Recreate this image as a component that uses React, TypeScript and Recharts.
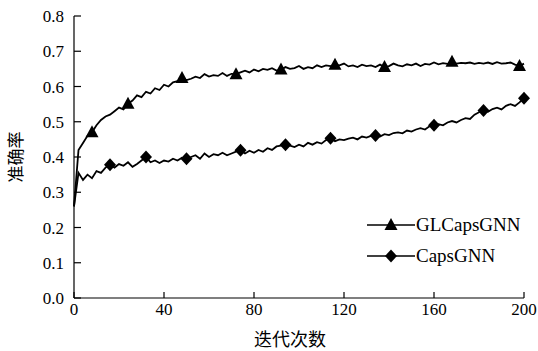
import React from "react";
import { LineChart, Line, XAxis, YAxis } from "recharts";

const iterations = Array.from({ length: 101 }, (_, i) => i * 2);

const glCapsGNN = [
  0.26, 0.42, 0.44, 0.46, 0.47, 0.49, 0.505, 0.515, 0.52, 0.53,
  0.54, 0.535, 0.551, 0.56, 0.575, 0.57, 0.585, 0.58, 0.595, 0.59,
  0.605, 0.6, 0.612, 0.615, 0.624, 0.618, 0.622, 0.628, 0.624, 0.635,
  0.628, 0.632, 0.63, 0.638, 0.63, 0.636, 0.635, 0.64, 0.645, 0.64,
  0.648, 0.643, 0.65, 0.647, 0.652, 0.645, 0.648, 0.655, 0.65, 0.652,
  0.658, 0.65, 0.655, 0.652, 0.66, 0.655, 0.66, 0.658, 0.662, 0.66,
  0.665, 0.657, 0.66, 0.655, 0.662, 0.658, 0.66, 0.655, 0.662, 0.655,
  0.658, 0.665, 0.66, 0.657, 0.663, 0.66, 0.665, 0.658, 0.664, 0.662,
  0.668, 0.663, 0.666, 0.664, 0.67, 0.665, 0.667, 0.666, 0.668, 0.664,
  0.667, 0.665, 0.668, 0.664, 0.669, 0.665, 0.666, 0.668, 0.662, 0.658,
  0.665,
];

const capsGNN = [
  0.26, 0.355, 0.335, 0.35, 0.34, 0.36, 0.355, 0.37, 0.378, 0.37,
  0.38, 0.375, 0.385, 0.372, 0.38, 0.39, 0.4, 0.385, 0.39, 0.383,
  0.39, 0.387, 0.395, 0.39, 0.398, 0.395, 0.4, 0.405, 0.395, 0.41,
  0.4, 0.408, 0.405, 0.412, 0.405, 0.41, 0.415, 0.419, 0.41, 0.418,
  0.412, 0.42, 0.415, 0.425, 0.42, 0.43, 0.432, 0.435, 0.432, 0.428,
  0.435, 0.43, 0.44, 0.435, 0.442, 0.438, 0.448, 0.453, 0.445, 0.45,
  0.448, 0.452, 0.455, 0.45, 0.458, 0.455, 0.46, 0.461, 0.458, 0.465,
  0.462, 0.468, 0.47, 0.467, 0.475, 0.472, 0.478, 0.482, 0.478, 0.487,
  0.49, 0.493, 0.49, 0.498, 0.502, 0.498, 0.505, 0.51, 0.508, 0.52,
  0.527, 0.532, 0.528, 0.536, 0.54, 0.535, 0.545, 0.55, 0.545, 0.555,
  0.567,
];

// iterations where a marker is drawn
const glMarkers = [8, 24, 48, 72, 92, 116, 138, 168, 198];
const capsMarkers = [16, 32, 50, 74, 94, 114, 134, 160, 182, 200];

const xTicks = [0, 40, 80, 120, 160, 200];
const yTicks = [0, 0.1, 0.2, 0.3, 0.4, 0.5, 0.6, 0.7, 0.8];

const data = iterations.map((x, i) => ({ x, gl: glCapsGNN[i], caps: capsGNN[i] }));

const serif = "'Liberation Serif', 'Times New Roman', serif";
const cjk = "'Noto Sans CJK SC', sans-serif";

const Triangle = ({ cx, cy }: { cx: number; cy: number }) => (
  <polygon points={`${cx},${cy - 7} ${cx - 6.5},${cy + 5} ${cx + 6.5},${cy + 5}`} fill="#000" />
);

const Diamond = ({ cx, cy }: { cx: number; cy: number }) => (
  <polygon points={`${cx},${cy - 6.5} ${cx + 6},${cy} ${cx},${cy + 6.5} ${cx - 6},${cy}`} fill="#000" />
);

const markerDot = (marks: number[], Shape: typeof Triangle) => (props: any) => {
  const { cx, cy, payload, index } = props;
  if (!marks.includes(payload.x)) return <g key={index} />;
  return (
    <g key={index}>
      <Shape cx={cx} cy={cy} />
    </g>
  );
};

const XTick = (props: any) => {
  const { x, y, payload } = props;
  return (
    <g>
      <line x1={x} y1={y} x2={x} y2={y - 6} stroke="#000" strokeWidth={1.2} />
      <text x={x} y={y + 17} textAnchor="middle" fontFamily={serif} fontSize={17} style={{ fontFamily: serif }} fill="#000">
        {payload.value}
      </text>
    </g>
  );
};

const YTick = (props: any) => {
  const { x, y, payload } = props;
  return (
    <g>
      <line x1={x} y1={y} x2={x + 7} y2={y} stroke="#000" strokeWidth={1.2} />
      <text x={x - 10} y={y + 6} textAnchor="end" fontFamily={serif} fontSize={17} style={{ fontFamily: serif }} fill="#000">
        {Number(payload.value).toFixed(1)}
      </text>
    </g>
  );
};

export default function App() {
  return (
    <div style={{ position: "absolute", left: 0, top: 0, width: 538, height: 351, background: "#fff" }}>
      <LineChart width={538} height={351} data={data} margin={{ top: 16, right: 14, bottom: 23, left: 0 }}>
        <XAxis
          dataKey="x"
          type="number"
          domain={[0, 200]}
          ticks={xTicks}
          tickSize={0}
          tickMargin={0}
          tickLine={false}
          height={30}
          axisLine={{ stroke: "#000", strokeWidth: 1.2 }}
          tick={<XTick />}
          interval={0}
        />
        <YAxis
          type="number"
          domain={[0, 0.8]}
          ticks={yTicks}
          width={74}
          tickSize={0}
          tickMargin={0}
          tickLine={false}
          axisLine={{ stroke: "#000", strokeWidth: 1.2 }}
          tick={<YTick />}
          interval={0}
        />
        <Line
          dataKey="gl"
          name="GLCapsGNN"
          stroke="#000"
          strokeWidth={1.8}
          dot={markerDot(glMarkers, Triangle)}
          activeDot={false}
          isAnimationActive={false}
        />
        <Line
          dataKey="caps"
          name="CapsGNN"
          stroke="#000"
          strokeWidth={1.8}
          dot={markerDot(capsMarkers, Diamond)}
          activeDot={false}
          isAnimationActive={false}
        />
      </LineChart>
      <svg width={538} height={351} style={{ position: "absolute", left: 0, top: 0, pointerEvents: "none" }}>
        <g>
          <line x1={367} y1={225} x2={415} y2={225} stroke="#000" strokeWidth={1.5} />
          <Triangle cx={391} cy={225} />
          <text x={416} y={231} style={{ fontFamily: serif, fontSize: 19 }} fill="#000">GLCapsGNN</text>
          <line x1={367} y1={256} x2={415} y2={256} stroke="#000" strokeWidth={1.5} />
          <Diamond cx={391} cy={256} />
          <text x={416} y={262} style={{ fontFamily: serif, fontSize: 19 }} fill="#000">CapsGNN</text>
        </g>
        <text x={290} y={346} textAnchor="middle" style={{ fontFamily: cjk, fontSize: 18 }} fill="#000">
          迭代次数
        </text>
        <text
          x={22}
          y={157}
          textAnchor="middle"
          style={{ fontFamily: cjk, fontSize: 17 }}
          fill="#000"
          transform="rotate(-90 22 157)"
        >
          准确率
        </text>
      </svg>
    </div>
  );
}
